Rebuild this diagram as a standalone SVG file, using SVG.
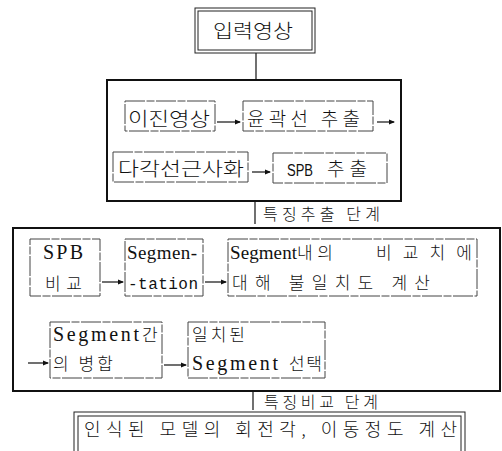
<svg xmlns="http://www.w3.org/2000/svg" width="502" height="451" viewBox="0 0 502 451">
<defs>
<marker id="ah" markerWidth="6" markerHeight="6" refX="5" refY="3" orient="auto" markerUnits="userSpaceOnUse">
<path d="M0,0.6 L6,3 L0,5.4 Z" fill="#111"/>
</marker>
<style>
.k{font-family:"Noto Sans CJK KR","Noto Sans",sans-serif;font-weight:300;fill:#111}
.s{font-family:"Liberation Serif",serif;font-weight:400;fill:#111}
.m{font-family:"Liberation Mono",monospace;fill:#111}
.ib{fill:none;stroke:#444;stroke-width:1;stroke-dasharray:20 1.5 8 1.5}
.ob{fill:none;stroke:#111;stroke-width:2}
.db{fill:none;stroke:#222;stroke-width:1}
.ln{stroke:#111;stroke-width:1.2;fill:none}
.ar{stroke:#111;stroke-width:1.2;fill:none;marker-end:url(#ah)}
</style>
</defs>
<rect width="502" height="451" fill="#fff"/>

<g id="connectors">
<line class="ln" x1="256" y1="53" x2="256" y2="80"/>
<line class="ln" x1="255" y1="202" x2="255" y2="224"/>
<line class="ln" x1="253" y1="391" x2="253" y2="410"/>
<line class="ar" x1="217" y1="122" x2="240" y2="122"/>
<line class="ar" x1="377" y1="122" x2="394" y2="122"/>
<line class="ar" x1="252" y1="172" x2="270" y2="172"/>
<line class="ar" x1="102" y1="282" x2="123" y2="282"/>
<line class="ar" x1="205" y1="282" x2="226" y2="282"/>
<line class="ar" x1="28" y1="363" x2="48" y2="363"/>
<line class="ar" x1="164" y1="365" x2="186" y2="365"/>
</g>

<g id="input">
<rect class="db" x="195" y="8" width="120" height="45"/>
<rect class="db" x="198" y="11" width="114" height="39"/>
<text class="k" x="213" y="38" font-size="19" textLength="80" lengthAdjust="spacingAndGlyphs">입력영상</text>
</g>

<g id="stage1">
<rect class="ob" x="107" y="80" width="294" height="121"/>
</g>
<g id="binary">
<rect class="ib" x="125" y="101" width="90" height="30"/>
<text class="k" x="128" y="126" font-size="19" textLength="82" lengthAdjust="spacingAndGlyphs">이진영상</text>
</g>
<g id="contour">
<rect class="ib" x="243" y="101" width="130" height="30"/>
<text class="k" x="247" y="126" font-size="19" textLength="113" lengthAdjust="spacing">윤곽선 추출</text>
</g>
<g id="polygon">
<rect class="ib" x="113" y="152" width="135" height="30"/>
<text class="k" x="118" y="176" font-size="19" textLength="126" lengthAdjust="spacingAndGlyphs">다각선근사화</text>
</g>
<g id="spb">
<rect class="ib" x="273" y="153" width="114" height="30"/>
<text class="k" x="287" y="176" font-size="19"><tspan font-family="Liberation Sans,sans-serif" font-weight="400" font-size="16" textLength="26" lengthAdjust="spacingAndGlyphs">SPB</tspan><tspan x="327" textLength="40" lengthAdjust="spacing">추출</tspan></text>
</g>
<g id="label1">
<text class="k" x="263" y="220" font-size="16" textLength="117" lengthAdjust="spacing">특징추출 단계</text>
</g>

<g id="stage2">
<rect class="ob" x="13" y="228" width="487" height="163"/>
</g>
<g id="spbcmp">
<rect class="ib" x="30" y="239" width="70" height="57"/>
<text class="s" x="43" y="259" font-size="20" textLength="40" lengthAdjust="spacing">SPB</text>
<text class="k" x="45" y="290" font-size="17" textLength="37" lengthAdjust="spacing">비교</text>
</g>
<g id="segmentation">
<rect class="ib" x="125" y="239" width="78" height="57"/>
<text class="s" x="127" y="259" font-size="19" textLength="70" lengthAdjust="spacing">Segmen-</text>
<text class="m" x="128" y="289" font-size="16" textLength="70" lengthAdjust="spacing">-tation</text>
</g>
<g id="mismatch">
<rect class="ib" x="228" y="239" width="249" height="57"/>
<text class="s" x="230" y="259" font-size="19"><tspan textLength="67" lengthAdjust="spacing">Segment</tspan><tspan class="k" x="297" font-size="17" textLength="36" lengthAdjust="spacing">내의</tspan> <tspan class="k" x="376" font-size="17" textLength="96" lengthAdjust="spacing">비교치에</tspan></text>
<text class="k" x="232" y="289" font-size="17" textLength="198" lengthAdjust="spacing">대해 불일치도 계산</text>
</g>
<g id="merge">
<rect class="ib" x="50" y="322" width="112" height="56"/>
<text class="s" x="53" y="341" font-size="20"><tspan textLength="86" lengthAdjust="spacing">Segment</tspan><tspan class="k" x="142" font-size="17">간</tspan></text>
<text class="k" x="53" y="370" font-size="17" textLength="60" lengthAdjust="spacing">의 병합</text>
</g>
<g id="select">
<rect class="ib" x="188" y="322" width="137" height="56"/>
<text class="k" x="192" y="341" font-size="17" textLength="53" lengthAdjust="spacing">일치된</text>
<text class="s" x="192" y="370" font-size="20"><tspan textLength="86" lengthAdjust="spacing">Segment</tspan><tspan class="k" x="289" font-size="17" textLength="33" lengthAdjust="spacing">선택</tspan></text>
</g>
<g id="label2">
<text class="k" x="264" y="408" font-size="16" textLength="114" lengthAdjust="spacing">특징비교 단계</text>
</g>

<g id="result">
<rect class="db" x="74" y="412" width="391" height="60"/>
<rect class="db" x="78" y="416" width="383" height="52"/>
<text class="k" x="84" y="436" font-size="18" textLength="373" lengthAdjust="spacing">인식된 모델의 회전각, 이동정도 계산</text>
</g>
</svg>
